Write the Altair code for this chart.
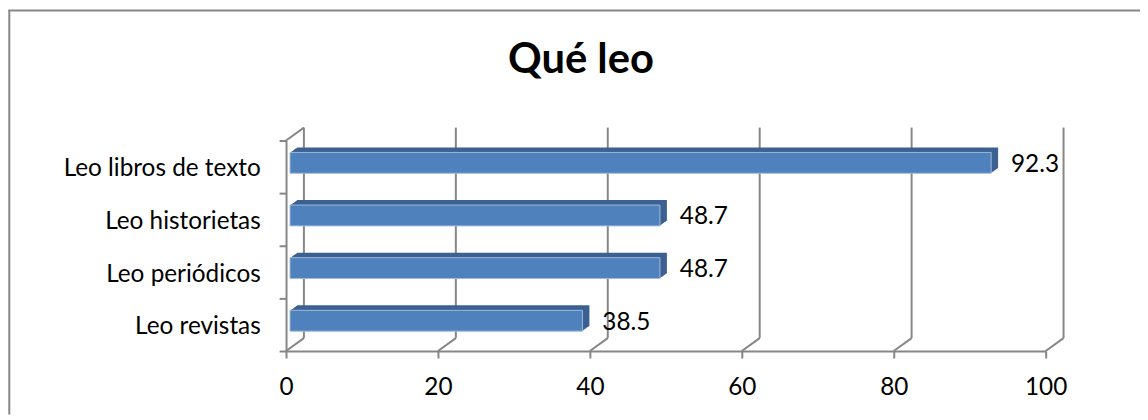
import altair as alt
import pandas as pd

categories = ["Leo libros de texto", "Leo historietas", "Leo periódicos", "Leo revistas"]
values = [92.3, 48.7, 48.7, 38.5]
tick_values = [0, 20, 40, 60, 80, 100]
title_text = ["Qué leo"]

W, H = 765, 212
PAD_L, PAD_T, PAD_R, PAD_B = 280, 132, 95, 64
DX, DY = 18, -13          # depth of the back wall
GRAY = "#868686"
FONT = "Lato"
FS = 24.5

df = pd.DataFrame({"cat": categories, "val": values})
ticks = pd.DataFrame({"t": tick_values})
tdf = pd.DataFrame({"title": title_text})

xscale = alt.Scale(domain=[0, 100], nice=False, zero=True)
xaxis = alt.Axis(values=tick_values, grid=False, domainColor=GRAY, domainWidth=2,
                 tickColor=GRAY, tickWidth=2, tickSize=7, labelFont=FONT,
                 labelFontSize=FS, labelColor="#000000", labelPadding=18,
                 title=None, labelFlush=False)
yaxis = alt.Axis(domainColor=GRAY, domainWidth=2, tickColor=GRAY, tickWidth=2,
                 tickSize=7, tickBand="extent", labelFont=FONT, labelFontSize=FS,
                 labelColor="#000000", labelPadding=19, labelOffset=2,
                 title=None, labelLimit=400)


def X(field):
    return alt.X(field, type="quantitative", scale=xscale, axis=xaxis)


def Y():
    return alt.Y("cat:N", sort=categories, axis=yaxis,
                 scale=alt.Scale(paddingInner=0, paddingOuter=0))


# back wall grid lines
grid = alt.Chart(ticks).mark_rule(color=GRAY, strokeWidth=2, xOffset=DX,
                                  yOffset=DY, y2Offset=DY).encode(
    x=X("t"), y=alt.value(0), y2=alt.value(H))

# floor diagonals
floor = alt.Chart(ticks).mark_rule(color=GRAY, strokeWidth=2, x2Offset=DX,
                                   y2Offset=DY).encode(
    x=X("t"), x2=alt.X2("t"), y=alt.value(H), y2=alt.value(H))

# left wall top diagonal
wall = alt.Chart(ticks[ticks.t == 0]).mark_rule(color=GRAY, strokeWidth=2,
                                                x2Offset=DX, y2Offset=DY).encode(
    x=X("t"), x2=alt.X2("t"), y=alt.value(0), y2=alt.value(0))

layers = [grid, floor, wall]

# bar extrusion (depth)
steps = 7
for k in range(1, steps + 1):
    layers.append(
        alt.Chart(df).mark_bar(color="#3b6091", size=21, xOffset=4 + k * 7 / steps,
                               yOffset=-4 - k * 5 / steps).encode(
            y=Y(), x=X("val")))

# bar front face
layers.append(
    alt.Chart(df).mark_bar(color="#4f81bd", size=21, xOffset=4, yOffset=-4,
                           stroke="#9fb9dc", strokeWidth=1).encode(
        y=Y(), x=X("val")))

# value labels
layers.append(
    alt.Chart(df).mark_text(align="left", baseline="middle", dx=24, dy=-2,
                            font=FONT, fontSize=FS, color="#000000").encode(
        y=Y(), x=X("val"), text=alt.Text("val:Q", format=".1f")))

# title
layers.append(
    alt.Chart(tdf).mark_text(align="center", baseline="alphabetic", font=FONT,
                             fontSize=42, fontWeight="bold", color="#000000").encode(
        x=alt.value(297), y=alt.value(-68), text="title:N"))

# chart-area border (left and top)
border_l = alt.Chart(ticks[ticks.t == 0]).mark_rule(color=GRAY, strokeWidth=2).encode(
    x=alt.value(-278.7), y=alt.value(-131), y2=alt.value(H + PAD_B))
border_t = alt.Chart(ticks[ticks.t == 0]).mark_rule(color=GRAY, strokeWidth=2).encode(
    x=alt.value(-279.7), x2=alt.value(W + PAD_R), y=alt.value(-131))
layers += [border_l, border_t]

chart = alt.layer(*layers).properties(
    width=W, height=H,
    autosize=alt.AutoSizeParams(type="none"),
    padding={"left": PAD_L, "top": PAD_T, "right": PAD_R, "bottom": PAD_B},
    background="#ffffff",
).configure_view(stroke=None)

chart.save("out.html", embed_options={"renderer": "svg", "actions": False})
